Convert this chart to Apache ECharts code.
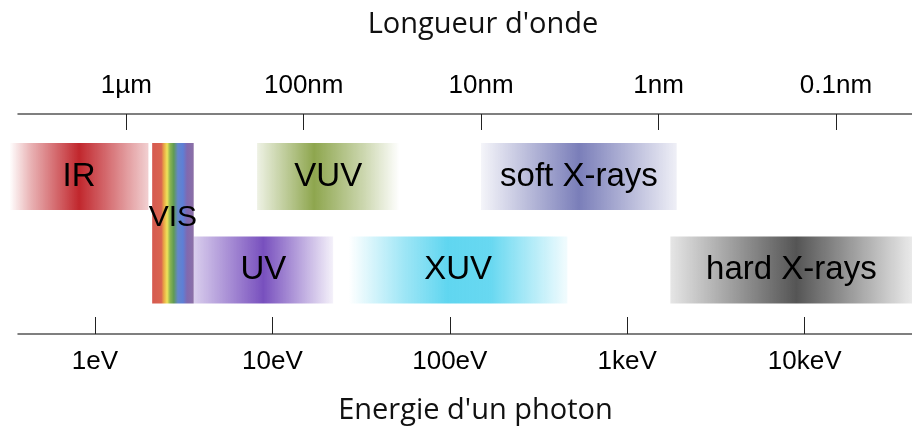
<!DOCTYPE html>
<html>
<head>
<meta charset="utf-8">
<script src="https://cdn.jsdelivr.net/npm/echarts@6/dist/echarts.min.js"></script>
<style>
  html, body { margin: 0; padding: 0; background: #fff; }
  #chart { width: 912px; height: 430px; }
</style>
</head>
<body>
<div id="chart"></div>
<script>
// spectral bands: energy range in eV, row 0 = upper row, row 1 = lower row
const bandNames = ['IR', 'VIS', 'VUV', 'soft X-rays', 'UV', 'XUV', 'hard X-rays'];
const bandStartEv = [0.33, 2.1, 8.2, 150, 3.6, 27, 1750];
const bandEndEv = [2.0, 3.6, 52, 1900, 22, 460, 40500];
const bandRowStart = [0, 0, 0, 0, 1, 1, 1];
const bandRowEnd = [0, 1, 0, 0, 1, 1, 1];

// axis ticks
const energyTicks = [1, 10, 100, 1000, 10000];
const energyLabels = ['1eV', '10eV', '100eV', '1keV', '10keV'];
const waveTicks = [1000, 100, 10, 1, 0.1]; // nm
const waveLabels = ['1µm', '100nm', '10nm', '1nm', '0.1nm'];

// couleurs des bandes (dégradés horizontaux)
function fade(rgb, pts) {
  return pts.map(p => ({ offset: p[0], color: 'rgba(' + rgb + ',' + p[1] + ')' }));
}
const bandStops = {
  'IR': fade('193,39,45', [[0, 0], [0.15, 0.35], [0.5, 1], [0.85, 0.45], [1, 0.22]]),
  'VIS': [
    { offset: 0, color: '#d65a50' },
    { offset: 0.22, color: '#da6450' },
    { offset: 0.28, color: '#e9a445' },
    { offset: 0.36, color: '#f0e25a' },
    { offset: 0.43, color: '#8cb550' },
    { offset: 0.52, color: '#5f9a55' },
    { offset: 0.62, color: '#6487cc' },
    { offset: 0.74, color: '#5d7fd6' },
    { offset: 0.84, color: '#8069b0' },
    { offset: 1, color: '#8c70a6' }
  ],
  'VUV': fade('142,166,78', [[0, 0.15], [0.4, 1], [0.75, 0.45], [1, 0]]),
  'soft X-rays': fade('122,126,185', [[0, 0.08], [0.5, 1], [1, 0.12]]),
  'UV': fade('120,80,190', [[0, 0.28], [0.5, 1], [1, 0.08]]),
  'XUV': fade('96,214,240', [[0, 0], [0.25, 0.6], [0.45, 1], [0.65, 0.95], [1, 0.08]]),
  'hard X-rays': fade('85,85,85', [[0, 0.15], [0.52, 1], [1, 0.12]])
};

const bandData = bandNames.map((n, i) => [
  Math.log10(bandStartEv[i]), Math.log10(bandEndEv[i]), bandRowStart[i], bandRowEnd[i]
]);

const BAND_HALF = 33.5;

function findLabel(values, labels, v) {
  for (let i = 0; i < values.length; i++) {
    if (Math.abs(Math.log10(values[i]) - v) < 1e-6) return labels[i];
  }
  return '';
}

const tickFont = { fontFamily: '"Liberation Sans", Arial, sans-serif', fontSize: 26, color: '#000' };

const chart = echarts.init(document.getElementById('chart'));

chart.setOption({
  animation: false,
  grid: { left: 18, right: 0, top: 114, bottom: 96 },
  xAxis: [
    {
      type: 'value',
      position: 'bottom',
      min: -0.434,
      max: 4.605,
      name: "Energie d'un photon",
      nameLocation: 'middle',
      nameGap: 62,
      nameTextStyle: {
        fontFamily: '"Open Sans", sans-serif', fontSize: 29, color: '#111',
        padding: [0, 0, 0, 21]
      },
      axisLine: { show: true, onZero: false, lineStyle: { color: '#555', width: 1.5 } },
      axisTick: {
        show: true, inside: true, length: 17,
        customValues: energyTicks.map(Math.log10),
        lineStyle: { color: '#222', width: 1 }
      },
      axisLabel: Object.assign({
        margin: 15,
        customValues: energyTicks.map(Math.log10),
        formatter: v => findLabel(energyTicks, energyLabels, v)
      }, tickFont),
      splitLine: { show: false }
    },
    {
      type: 'value',
      position: 'top',
      inverse: true,
      min: -1.4287,
      max: 3.6105,
      name: "Longueur d'onde",
      nameLocation: 'middle',
      nameGap: 75,
      nameTextStyle: {
        fontFamily: '"Open Sans", sans-serif', fontSize: 29, color: '#111',
        padding: [0, 0, 0, 36]
      },
      axisLine: { show: true, onZero: false, lineStyle: { color: '#555', width: 1.5 } },
      axisTick: {
        show: true, inside: true, length: 16,
        customValues: waveTicks.map(Math.log10),
        lineStyle: { color: '#222', width: 1 }
      },
      axisLabel: Object.assign({
        margin: 15,
        customValues: waveTicks.map(Math.log10),
        formatter: v => findLabel(waveTicks, waveLabels, v)
      }, tickFont),
      splitLine: { show: false }
    }
  ],
  yAxis: {
    type: 'value',
    inverse: true,
    min: -0.668,
    max: 1.685,
    show: false,
    splitLine: { show: false }
  },
  series: [{
    type: 'custom',
    xAxisIndex: 0,
    data: bandData,
    renderItem: function (params, api) {
      const p0 = api.coord([api.value(0), api.value(2)]);
      const p1 = api.coord([api.value(1), api.value(3)]);
      const left = p0[0], right = p1[0];
      const top = p0[1] - BAND_HALF, bottom = p1[1] + BAND_HALF;
      const name = bandNames[params.dataIndex];
      const isVis = name === 'VIS';
      return {
        type: 'group',
        children: [
          {
            type: 'rect',
            z2: 0,
            shape: { x: left, y: top, width: right - left, height: bottom - top },
            style: { fill: new echarts.graphic.LinearGradient(0, 0, 1, 0, bandStops[name]) }
          },
          {
            type: 'text',
            z2: 10,
            x: (left + right) / 2,
            y: (top + bottom) / 2 + (isVis ? -5 : 0),
            style: {
              text: name,
              fill: '#000',
              font: (isVis ? '30px' : '33px') + ' "Liberation Sans", Arial, sans-serif',
              align: 'center',
              verticalAlign: 'middle'
            }
          }
        ]
      };
    }
  }]
});
</script>
</body>
</html>
